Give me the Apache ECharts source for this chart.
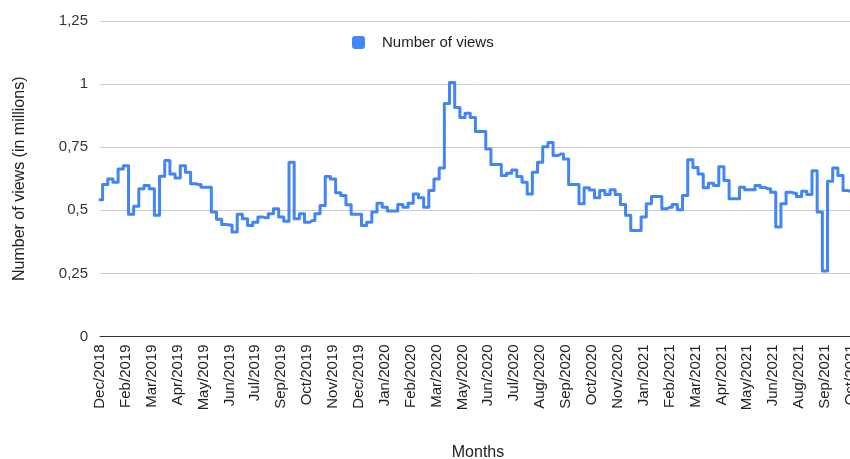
<!DOCTYPE html>
<html>
<head>
<meta charset="utf-8">
<script src="https://cdn.jsdelivr.net/npm/echarts@6/dist/echarts.min.js"></script>
<style>
html,body{margin:0;padding:0;background:#fff;overflow:hidden;}
#chart{width:850px;height:459px;}
</style>
</head>
<body>
<div id="chart"></div>
<script>
// Visible month tick labels (one every 5 weekly points)
const tickLabels = ["Dec/2018","Feb/2019","Mar/2019","Apr/2019","May/2019","Jun/2019","Jul/2019","Sep/2019","Oct/2019","Nov/2019","Dec/2019","Jan/2020","Feb/2020","Mar/2020","May/2020","Jun/2020","Jul/2020","Aug/2020","Sep/2020","Oct/2020","Nov/2020","Jan/2021","Feb/2021","Mar/2021","Apr/2021","May/2021","Jun/2021","Aug/2021","Sep/2021","Oct/2021"];

// Weekly number of views (in millions)
const views = [
0.542,0.602,0.624,0.611,0.664,0.677,0.484,0.516,0.585,0.598,
0.585,0.48,0.635,0.697,0.644,0.628,0.677,0.651,0.605,0.602,
0.591,0.591,0.493,0.465,0.444,0.442,0.414,0.484,0.467,0.44,
0.453,0.473,0.47,0.486,0.506,0.473,0.457,0.69,0.467,0.486,
0.453,0.46,0.486,0.519,0.634,0.624,0.57,0.559,0.522,0.484,
0.484,0.44,0.453,0.493,0.528,0.512,0.497,0.497,0.523,0.512,
0.528,0.565,0.55,0.512,0.578,0.624,0.668,0.923,1.006,0.907,
0.868,0.885,0.868,0.812,0.812,0.743,0.681,0.681,0.638,0.647,
0.66,0.634,0.611,0.565,0.651,0.69,0.752,0.769,0.717,0.723,
0.703,0.602,0.602,0.526,0.589,0.58,0.55,0.578,0.563,0.581,
0.563,0.523,0.48,0.42,0.42,0.473,0.526,0.555,0.555,0.506,
0.512,0.523,0.502,0.559,0.7,0.67,0.644,0.589,0.607,0.598,
0.673,0.618,0.546,0.546,0.591,0.581,0.581,0.598,0.59,0.585,
0.572,0.434,0.526,0.572,0.568,0.555,0.575,0.563,0.657,0.493,
0.26,0.615,0.668,0.638,0.578,0.575,0.575
];

const yTicks = [0, 0.25, 0.5, 0.75, 1, 1.25];

// Category keys: one per week; every 5th carries the month label
const categories = views.map((v, i) => {
  const k = Math.min(Math.floor(i / 5), tickLabels.length - 1);
  return i % 5 === 0 ? tickLabels[k] : tickLabels[k] + ' w' + (i % 5 + 1);
});

const FONT = 'Liberation Sans, Arial, sans-serif';
const chart = echarts.init(document.getElementById('chart'), null, {renderer: 'canvas'});
chart.setOption({
  animation: false,
  backgroundColor: '#ffffff',
  textStyle: {fontFamily: FONT},
  legend: {
    left: 347, top: 30,
    icon: 'roundRect',
    itemWidth: 13, itemHeight: 13,
    textStyle: {fontSize: 15, color: '#222', fontFamily: FONT, padding: [0, 0, 0, 12]},
    data: ['Number of views']
  },
  grid: {left: 100, right: -6, top: 21, bottom: 122.5, containLabel: false, outerBoundsMode: 'none'},
  xAxis: {
    type: 'category',
    data: categories,
    boundaryGap: false,
    name: 'Months',
    nameLocation: 'middle',
    nameGap: 108,
    nameTextStyle: {fontSize: 16, color: '#222', fontFamily: FONT},
    axisLine: {show: true, lineStyle: {color: '#333', width: 1.2}},
    axisTick: {show: false},
    axisLabel: {
      interval: 4, rotate: 90, margin: 8,
      fontSize: 15, color: '#222', fontFamily: FONT,
      formatter: v => v.split(' ')[0]
    },
    splitLine: {show: false}
  },
  yAxis: {
    type: 'value',
    min: yTicks[0], max: yTicks[yTicks.length - 1], interval: 0.25,
    name: 'Number of views (in millions)',
    nameLocation: 'middle',
    nameGap: 72,
    nameTextStyle: {fontSize: 16, color: '#222', fontFamily: FONT},
    axisLine: {show: false},
    axisTick: {show: false},
    axisLabel: {
      margin: 12, fontSize: 15, color: '#333', fontFamily: FONT,
      formatter: v => String(v).replace('.', ',')
    },
    splitLine: {lineStyle: {color: '#cccccc', width: 1}}
  },
  series: [{
    name: 'Number of views',
    type: 'line',
    step: 'middle',
    data: views,
    showSymbol: false,
    symbol: 'none',
    itemStyle: {color: '#4285F4'},
    lineStyle: {color: '#4285F4', width: 3, join: 'round', cap: 'round'}
  }]
});
</script>
</body>
</html>
